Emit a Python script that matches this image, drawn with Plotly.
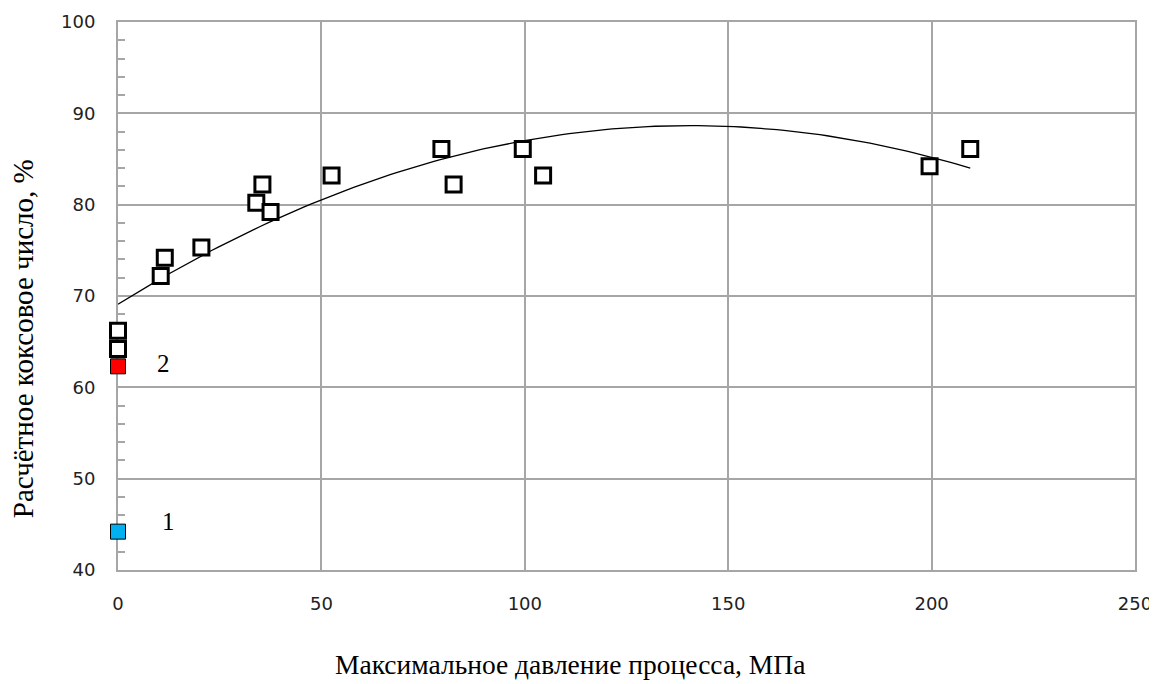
import numpy as np
import plotly.graph_objects as go

# Open squares: experimental data
pressure = [0, 0, 10.5, 11.5, 20.5, 34, 35.5, 37.5, 52.5, 79.5, 82.5, 99.5, 104.5, 199.5, 209.5]
coke_number = [66.2, 64.2, 72.2, 74.2, 75.3, 80.2, 82.2, 79.2, 83.2, 86.1, 82.2, 86.1, 83.2, 84.2, 86.1]

# Special points
point1_x, point1_y = [0], [44.2]
point2_x, point2_y = [0], [62.3]

labels_text = ["1", "2"]
labels_x = [12.3, 11.3]
labels_y = [45.3, 62.6]

x_title = "Максимальное давление процесса, МПа"
y_title = "Расчётное коксовое число, %"

# Quadratic trend fitted to the open squares
coef = np.polyfit(pressure, coke_number, 2)
trend_x = np.linspace(0, 209.5, 120)
trend_y = np.polyval(coef, trend_x)

fig = go.Figure()
fig.add_trace(go.Scatter(x=trend_x, y=trend_y, mode="lines",
                         line=dict(color="black", width=1.3), showlegend=False, hoverinfo="skip"))
fig.add_trace(go.Scatter(x=pressure, y=coke_number, mode="markers",
                         marker=dict(symbol="square", size=15, color="white",
                                     line=dict(color="black", width=3)),
                         showlegend=False, cliponaxis=False))
fig.add_trace(go.Scatter(x=point2_x, y=point2_y, mode="markers",
                         marker=dict(symbol="square", size=15, color="#ff0000",
                                     line=dict(color="black", width=1)),
                         showlegend=False, cliponaxis=False))
fig.add_trace(go.Scatter(x=point1_x, y=point1_y, mode="markers",
                         marker=dict(symbol="square", size=15, color="#00b0f0",
                                     line=dict(color="black", width=1)),
                         showlegend=False, cliponaxis=False))

for t, x, y in zip(labels_text, labels_x, labels_y):
    fig.add_annotation(x=x, y=y, text=t, showarrow=False,
                       font=dict(family="Liberation Serif", size=25, color="black"))

fig.add_annotation(xref="paper", yref="paper", x=0.444, y=-0.173, yanchor="middle",
                   text=x_title, showarrow=False,
                   font=dict(family="Liberation Serif", size=27.5, color="black"))
fig.add_annotation(xref="paper", yref="paper", x=-0.094, y=0.422, xanchor="center",
                   yanchor="middle", textangle=-90, text=y_title, showarrow=False,
                   font=dict(family="Liberation Serif", size=29, color="black"))

# page body has an 8px margin: figure sized so plot area lands where the reference has it
fig.update_layout(
    width=1149, height=676,
    margin=dict(l=110, r=22, t=14, b=114),
    paper_bgcolor="white", plot_bgcolor="white",
    font=dict(family="DejaVu Sans", size=18, color="#222"),
)
fig.update_xaxes(
    range=[0, 250], dtick=50, showgrid=True, gridcolor="#a6a6a6", gridwidth=1.5,
    showline=True, linecolor="#a6a6a6", linewidth=1.5, mirror=True, layer="below traces",
    zeroline=False, ticks="", ticklabelstandoff=17, automargin=False,
    tickfont=dict(family="DejaVu Sans", size=18),
)
fig.update_yaxes(
    range=[40, 100], dtick=10, showgrid=True, gridcolor="#a6a6a6", gridwidth=1.5,
    showline=True, linecolor="#a6a6a6", linewidth=2, mirror=True, layer="below traces",
    zeroline=False, ticks="", ticklabelstandoff=17, automargin=False,
    tickfont=dict(family="DejaVu Sans", size=18),
    minor=dict(dtick=2, ticks="inside", ticklen=7, tickcolor="#a6a6a6", tickwidth=1.5, showgrid=False),
)

fig.write_html("out.html")
